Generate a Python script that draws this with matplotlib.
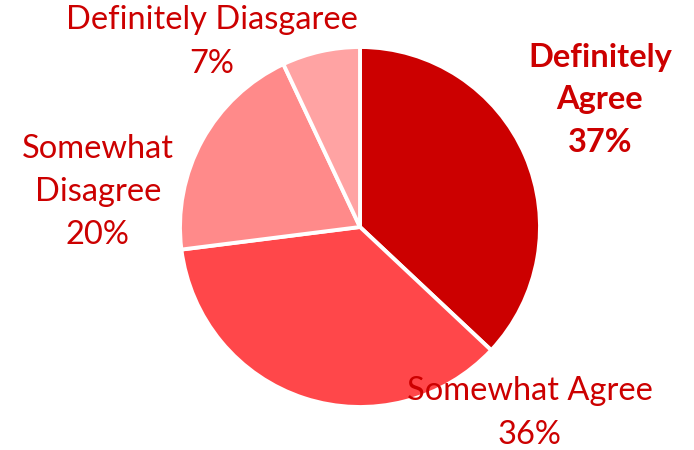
import matplotlib.pyplot as plt

labels = ["Definitely\nAgree", "Somewhat Agree", "Somewhat\nDisagree", "Definitely Diasgaree"]
values = [37, 36, 20, 7]
colors = ["#CC0000", "#FF474A", "#FF8A8A", "#FFA3A3"]
bold = [True, False, False, False]
# label positions in pie units (radius = 1)
label_pos = [(1.333, 0.706), (0.944, -1.033), (-1.456, 0.194), (-0.822, 1.028)]

plt.rcParams['font.family'] = ['Lato', 'DejaVu Sans']

fig = plt.figure(figsize=(6.94, 4.50), dpi=100)
ax = fig.add_axes([180 / 694, 43 / 450, 360 / 694, 360 / 450])

ax.pie(values, colors=colors, startangle=90, counterclock=False, radius=1,
       wedgeprops=dict(edgecolor="white", linewidth=2.8))
ax.set_xlim(-1, 1)
ax.set_ylim(-1, 1)
ax.set_aspect("equal")
ax.axis("off")

for lab, v, (x, y), b in zip(labels, values, label_pos, bold):
    ax.text(x, y, f"{lab}\n{v}%", ha="center", va="center", color="#CC0000",
            fontsize=23.5, fontweight="bold" if b else "normal",
            linespacing=1.55, clip_on=False)

fig.savefig("out.png", dpi=100)
